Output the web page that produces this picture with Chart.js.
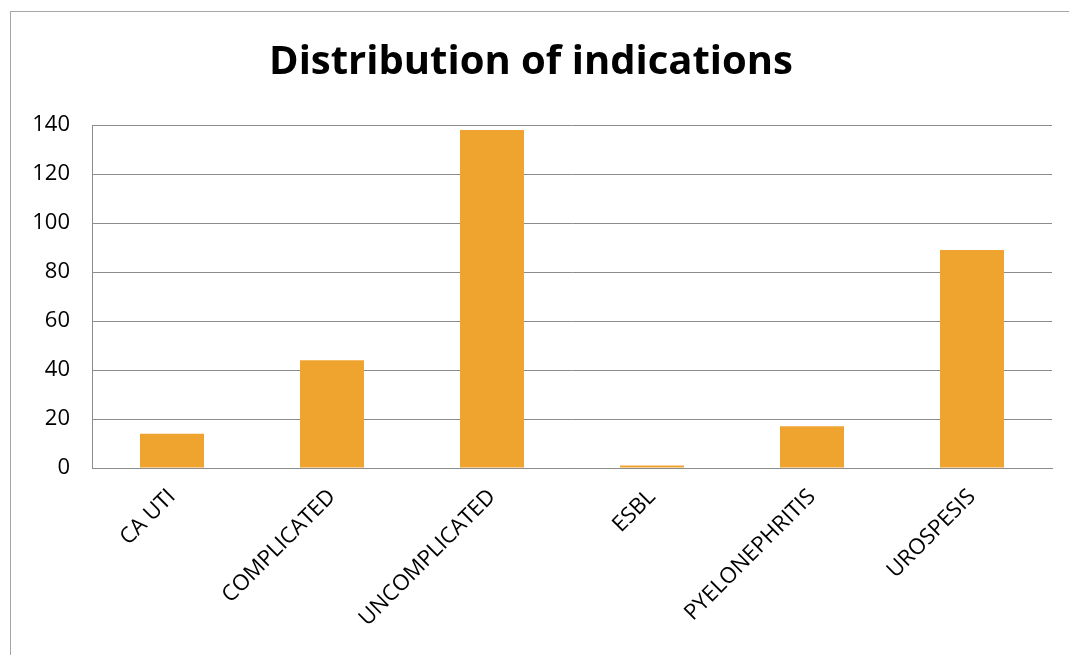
<!DOCTYPE html>
<html lang="en">
<head>
    <meta charset="UTF-8" />
    <title>Distribution of indications</title>
    <script src="https://cdn.jsdelivr.net/npm/chart.js"></script>
    <style>
        html, body { margin: 0; padding: 0; background: #fff; overflow: hidden; }
        #wrap { position: relative; width: 1069px; height: 655px; overflow: hidden; }
        #frame { position: absolute; left: 10px; top: 11px; right: -20px; bottom: -20px; border: 1px solid #a6a6a6; }
        canvas { position: absolute; left: 0; top: 0; }
    </style>
</head>
<body>
    <div id="wrap">
        <div id="frame"></div>
        <canvas id="grafica" width="1069" height="655"></canvas>
    </div>

    <script>
        const categorias = ["CA UTI", "COMPLICATED", "UNCOMPLICATED", "ESBL", "PYELONEPHRITIS", "UROSPESIS"];
        const valores = [14, 44, 138, 1, 17, 89];
        const yMax = 140;
        const yPaso = 20;

        const fuente = "'Open Sans', 'Liberation Sans', sans-serif";

        new Chart(document.getElementById("grafica").getContext("2d"), {
            type: "bar",
            data: {
                labels: categorias,
                datasets: [{
                    data: valores,
                    backgroundColor: "#f0a430",
                    barPercentage: 0.4,
                    categoryPercentage: 1.0
                }]
            },
            options: {
                responsive: false,
                animation: false,
                layout: { padding: { left: 10, right: 17, top: 0, bottom: 0 } },
                plugins: {
                    legend: { display: false },
                    tooltip: { enabled: false },
                    title: {
                        display: true,
                        text: "Distribution of indications",
                        color: "#000",
                        font: { family: fuente, size: 40, weight: "bold" },
                        padding: { top: 39, bottom: 38 }
                    }
                },
                scales: {
                    x: {
                        grid: { display: false },
                        border: { display: true, color: "#8c8c8c", width: 1 },
                        ticks: {
                            color: "#000",
                            font: { family: fuente, size: 22 },
                            minRotation: 45,
                            maxRotation: 45,
                            padding: 8
                        },
                        afterFit: (s) => { s.height = 187; }
                    },
                    y: {
                        min: 0,
                        max: yMax,
                        ticks: {
                            stepSize: yPaso,
                            color: "#000",
                            font: { family: fuente, size: 22 },
                            padding: 22
                        },
                        grid: { color: "#8c8c8c", lineWidth: 1, drawTicks: false },
                        border: { display: true, color: "#8c8c8c", width: 1 },
                        afterFit: (s) => { s.width = 82; }
                    }
                }
            }
        });
    </script>
</body>
</html>
